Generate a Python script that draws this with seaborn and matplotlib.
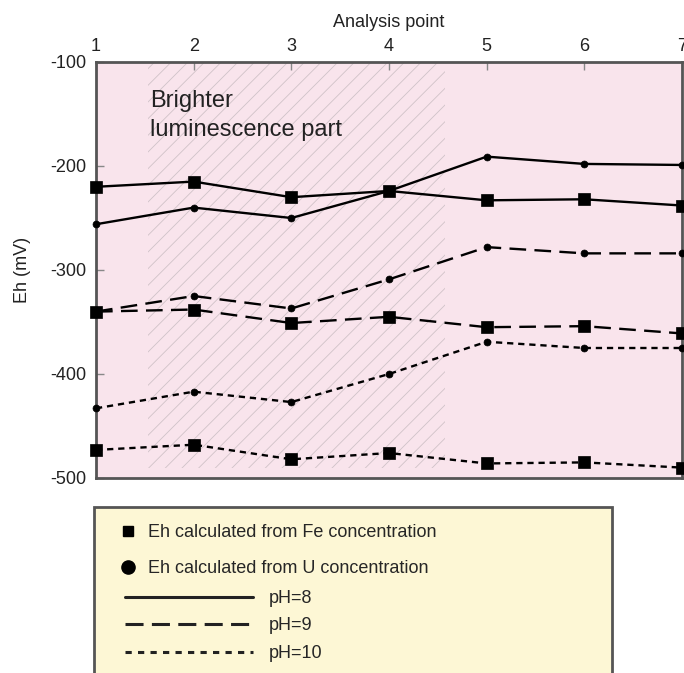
import numpy as np
import pandas as pd
import matplotlib
matplotlib.use('Agg')
import matplotlib.pyplot as plt
import seaborn as sns
from matplotlib.lines import Line2D
from matplotlib.patches import Rectangle

# ==========================
# Datos
# ==========================
puntos = [1, 2, 3, 4, 5, 6, 7]

fe_ph8 = [-220, -215, -230, -224, -233, -232, -238]
u_ph8 = [-256, -240, -250, -224, -191, -198, -199]
fe_ph9 = [-340, -338, -351, -345, -355, -354, -361]
u_ph9 = [-340, -325, -337, -309, -278, -284, -284]
fe_ph10 = [-473, -468, -482, -476, -486, -485, -490]
u_ph10 = [-433, -417, -427, -400, -369, -375, -375]

y_ticks = [-100, -200, -300, -400, -500]
zona_brillante = (1.53, 4.57)

leyenda_marcadores = ['Eh calculated from Fe concentration',
                      'Eh calculated from U concentration']
leyenda_ph = ['pH=8', 'pH=9', 'pH=10']

# ==========================
# Estilo
# ==========================
sns.set_theme(style='ticks')
plt.rcParams['font.family'] = ['Liberation Sans', 'DejaVu Sans']
plt.rcParams['axes.unicode_minus'] = False
plt.rcParams['hatch.linewidth'] = 0.6

fondo = '#f9e4ec'
fondo_leyenda = '#fdf7d5'
borde = '#555555'

lw = 1.7
estilos = {
    'pH=8': '-',
    'pH=9': (0, (12 / lw, 6 / lw)),
    'pH=10': (0, (4.5 / lw, 3.5 / lw)),
}

series = [
    (fe_ph8, 'pH=8', 's', 9), (u_ph8, 'pH=8', 'o', 5),
    (fe_ph9, 'pH=9', 's', 9), (u_ph9, 'pH=9', 'o', 5),
    (fe_ph10, 'pH=10', 's', 9), (u_ph10, 'pH=10', 'o', 5),
]

fig = plt.figure(figsize=(6.84, 6.73), dpi=100)
ax = fig.add_axes([96 / 684, 1 - 478 / 673, (682 - 96) / 684, (478 - 62) / 673])
ax.set_facecolor(fondo)

# zona rayada
ax.axvspan(zona_brillante[0], zona_brillante[1], ymin=0.025, ymax=1,
           facecolor='none', edgecolor='#d0c2c8', hatch='//', linewidth=0)

for valores, ph, marca, tam in series:
    df = pd.DataFrame({'punto': puntos, 'eh': valores})
    sns.lineplot(data=df, x='punto', y='eh', ax=ax, color='black',
                 linewidth=lw, linestyle=estilos[ph], marker=marca,
                 markersize=tam, markeredgecolor='black',
                 markeredgewidth=0.5, clip_on=False, zorder=3)

ax.text(1.55, -127, 'Brighter\nluminescence part', fontsize=17,
        va='top', ha='left', linespacing=1.4, color='#222222')

ax.set_xlim(1, 7)
ax.set_ylim(-500, -100)
ax.set_xticks(puntos)
ax.set_yticks(y_ticks)
ax.set_yticklabels([str(v) for v in y_ticks])
ax.xaxis.tick_top()
ax.xaxis.set_label_position('top')
ax.tick_params(axis='x', direction='in', length=6, width=1, color='#888888',
               labelsize=13, pad=5, labelcolor='#222222')
ax.tick_params(axis='y', direction='in', length=6, width=1, color='#888888',
               labelsize=13, pad=7, labelcolor='#222222')
ax.set_xlabel('Analysis point', fontsize=13, labelpad=8, color='#222222')
ax.set_ylabel('Eh (mV)', fontsize=13, labelpad=14, color='#222222')
for s in ax.spines.values():
    s.set_color(borde)
    s.set_linewidth(2)

# ==========================
# Leyenda
# ==========================
fig.add_artist(Rectangle((94 / 684, -0.05), (612 - 94) / 684,
                         1 - 507 / 673 + 0.05, transform=fig.transFigure,
                         facecolor=fondo_leyenda, edgecolor=borde,
                         linewidth=2, zorder=0))

h_marcas = [Line2D([], [], ls='none', marker='s', ms=7, color='black'),
            Line2D([], [], ls='none', marker='o', ms=9.5, color='black')]
fig.legend(h_marcas, leyenda_marcadores, loc='upper left',
           bbox_to_anchor=(119 / 684, 1 - 524 / 673), frameon=False,
           fontsize=13, handlelength=1.0, handletextpad=0.6,
           labelspacing=1.05, borderpad=0, borderaxespad=0)

lw_ley = 2.2
h_lineas = [Line2D([], [], color='#222222', lw=lw_ley, ls='-'),
            Line2D([], [], color='#222222', lw=lw_ley,
                   ls=(0, (13 / lw_ley, 6 / lw_ley))),
            Line2D([], [], color='#222222', lw=lw_ley,
                   ls=(0, (4.5 / lw_ley, 4.5 / lw_ley)))]
fig.legend(h_lineas, leyenda_ph, loc='upper left',
           bbox_to_anchor=(125 / 684, 1 - 590 / 673), frameon=False,
           fontsize=13, handlelength=7.1, handletextpad=0.85,
           labelspacing=0.58, borderpad=0, borderaxespad=0)

fig.savefig('out.png', dpi=100)
